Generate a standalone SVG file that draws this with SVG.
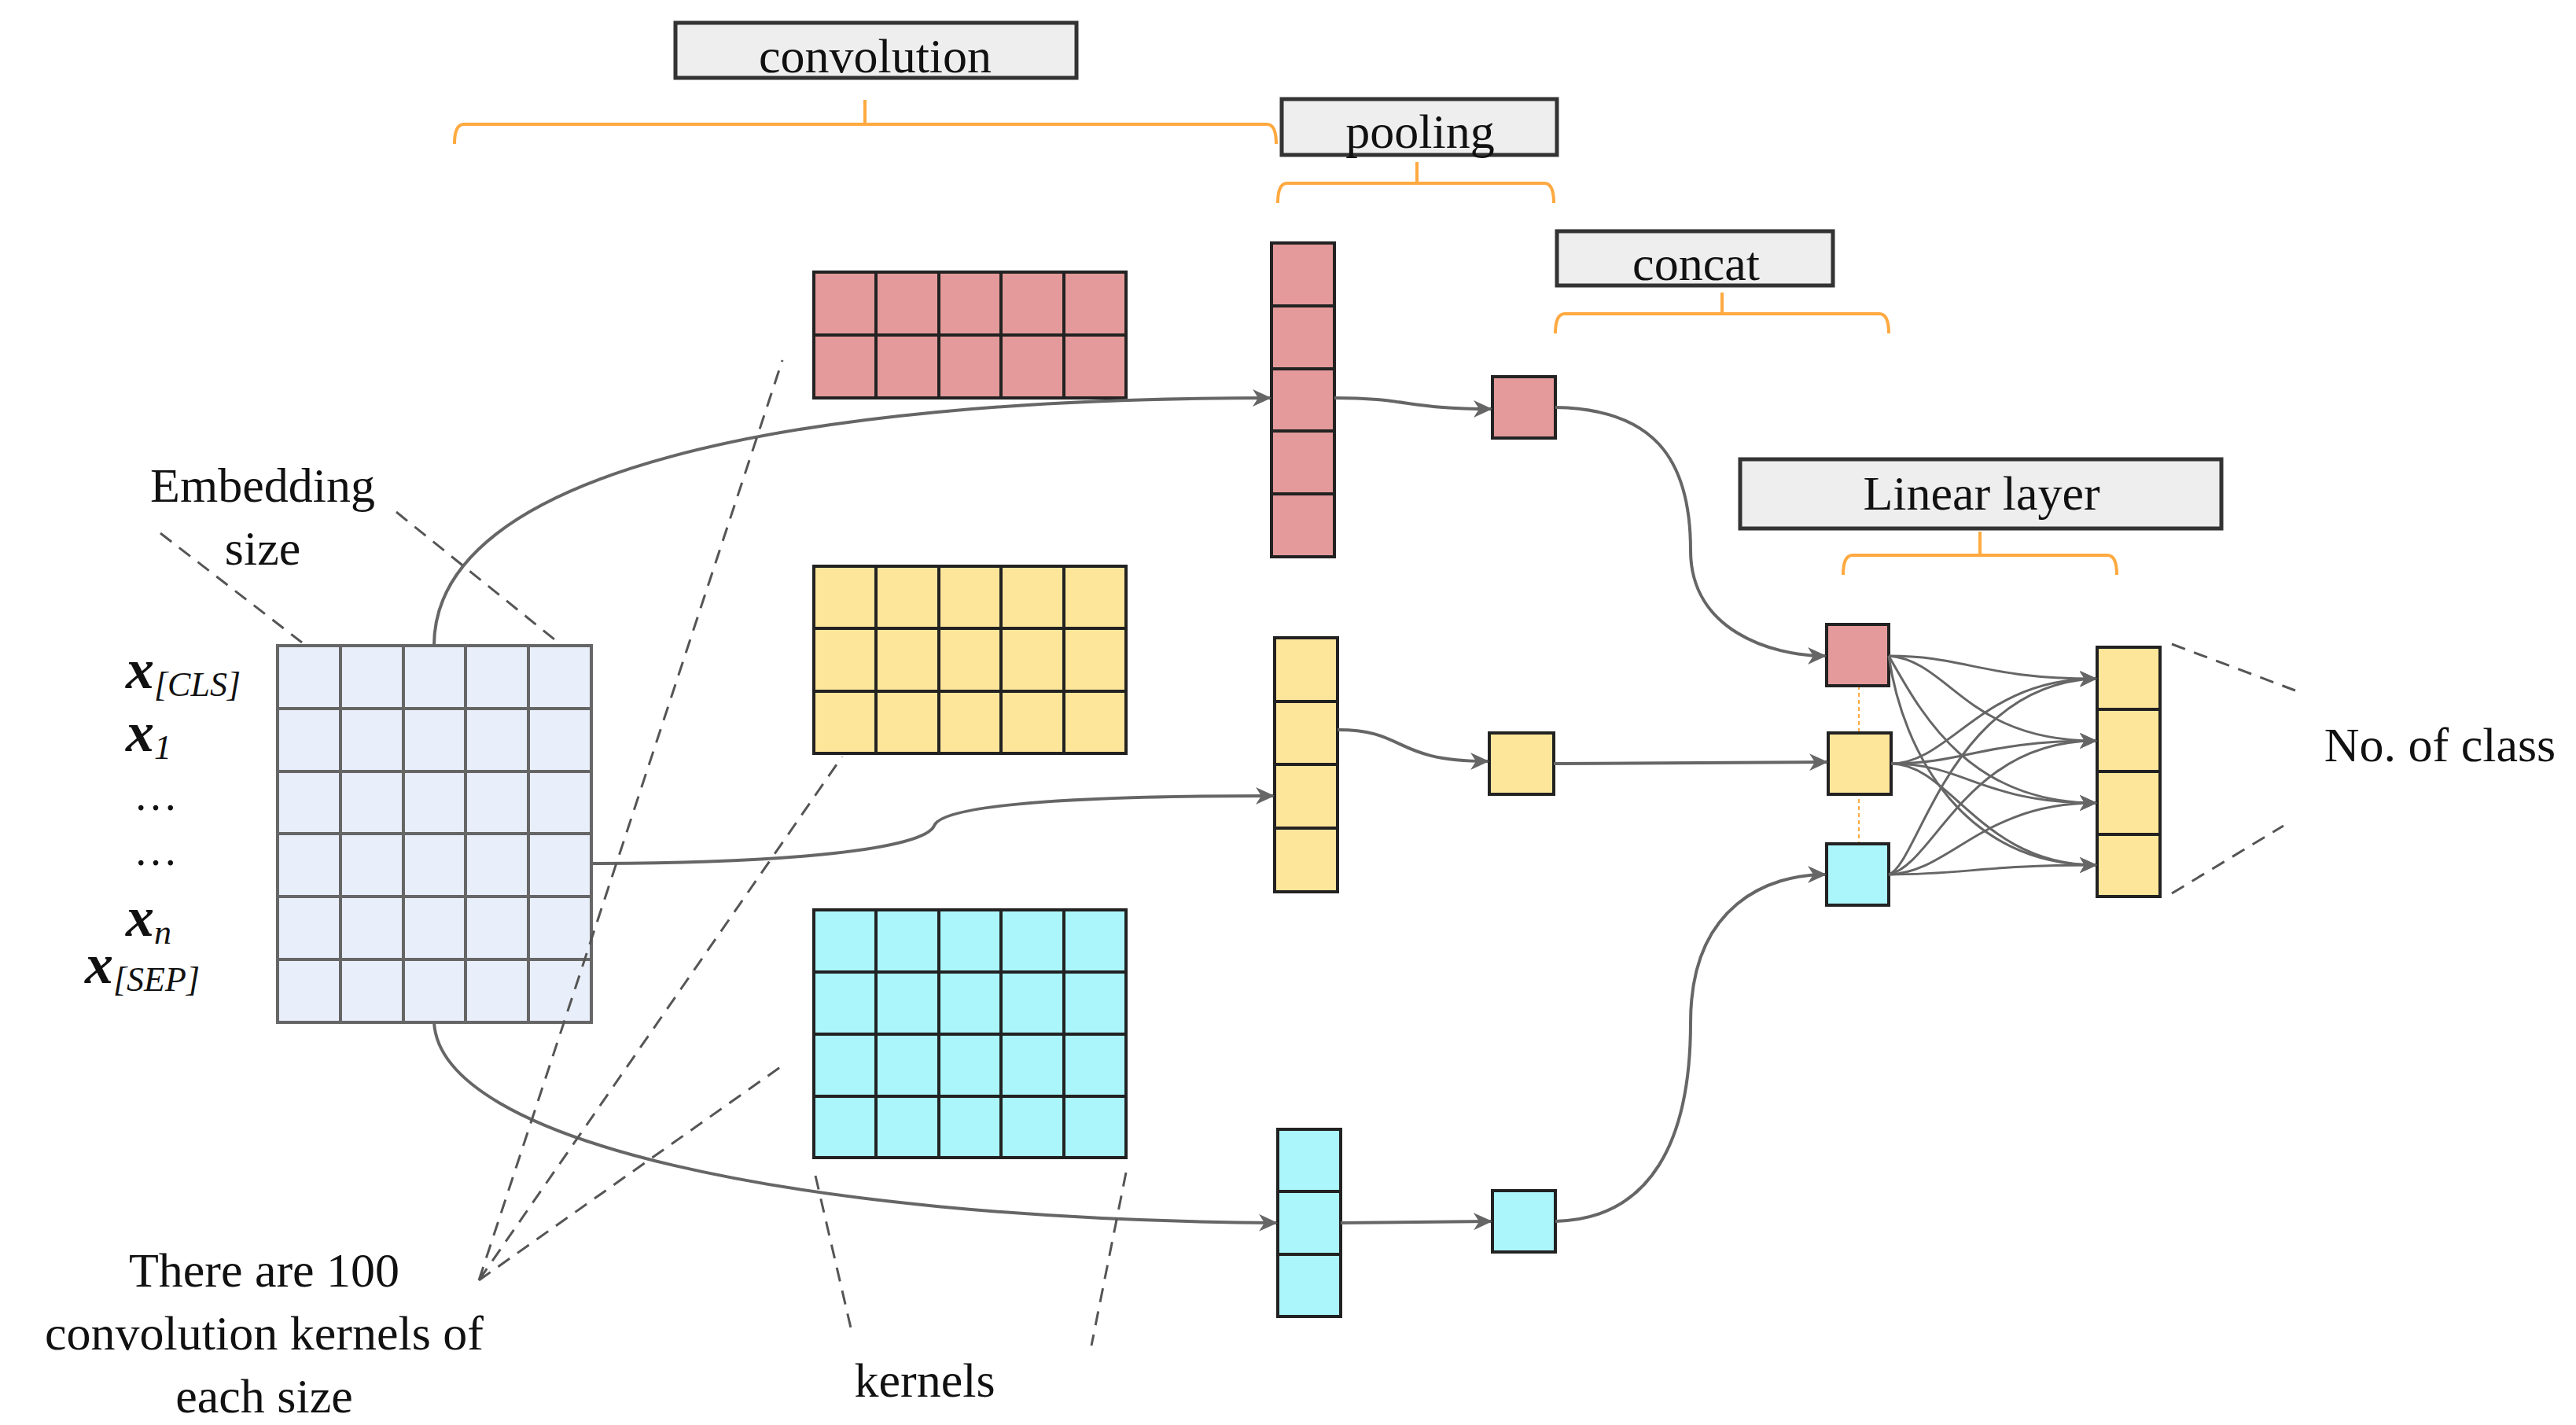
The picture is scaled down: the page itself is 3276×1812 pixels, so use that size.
<svg xmlns="http://www.w3.org/2000/svg" width="3276" height="1812" viewBox="0 0 3276 1812">
<style>
.lbl{fill:#eeeeee;stroke:#333;stroke-width:5}
.t{font-family:"Liberation Serif",serif;font-size:62px;fill:#111;text-anchor:middle}
.brace{fill:none;stroke:#ffa940;stroke-width:4}
.r{fill:#e49a9a;stroke:#222;stroke-width:4}
.y{fill:#fde59a;stroke:#222;stroke-width:4}
.c{fill:#aaf6fb;stroke:#222;stroke-width:4}
.e{fill:#e8eefa;stroke:#666;stroke-width:4}
.con{fill:none;stroke:#666;stroke-width:4;marker-end:url(#ah)}
.fc{fill:none;stroke:#666;stroke-width:3;marker-end:url(#ah2)}
.dash{fill:none;stroke:#555;stroke-width:3;stroke-dasharray:18 12}
.xv{font-family:"Liberation Serif",serif;font-weight:bold;font-style:italic;font-size:72px;fill:#111}
.sub{font-family:"Liberation Serif",serif;font-style:italic;font-weight:normal;font-size:44px}
.ell{font-family:"Liberation Serif",serif;font-size:56px;fill:#111;text-anchor:middle}
</style>
<defs>
<marker id="ah" markerWidth="24" markerHeight="22" refX="22" refY="11" orient="auto" markerUnits="userSpaceOnUse" viewBox="0 0 24 22">
<path d="M0,0 L24,11 L0,22 L7,11 Z" fill="#666"/>
</marker>
<marker id="ah2" markerWidth="22" markerHeight="20" refX="20" refY="10" orient="auto" markerUnits="userSpaceOnUse" viewBox="0 0 22 20">
<path d="M0,0 L22,10 L0,20 L6,10 Z" fill="#666"/>
</marker>
</defs>
<rect width="3276" height="1812" fill="#fff"/>

<g id="labels">
<g id="convolution"><rect class="lbl" x="859" y="29" width="510" height="70"/><text class="t" x="1113" y="92">convolution</text>
<path class="brace" d="M578,183 Q578,158 590,158 L1100,158 L1100,127 M1100,158 L1611,158 Q1623,158 1623,183"/></g>
<g id="pooling"><rect class="lbl" x="1630" y="126" width="350" height="71"/><text class="t" x="1806" y="188">pooling</text>
<path class="brace" d="M1625,258 Q1625,233 1637,233 L1802,233 L1802,206 M1802,233 L1964,233 Q1976,233 1976,258"/></g>
<g id="concat"><rect class="lbl" x="1980" y="294" width="351" height="69"/><text class="t" x="2157" y="356">concat</text>
<path class="brace" d="M1978,424 Q1978,399 1990,399 L2190,399 L2190,372 M2190,399 L2390,399 Q2402,399 2402,424"/></g>
<g id="linear"><rect class="lbl" x="2213" y="584" width="612" height="88"/><text class="t" x="2520" y="648">Linear layer</text>
<path class="brace" d="M2344,731 Q2344,706 2356,706 L2518,706 L2518,676 M2518,706 L2680,706 Q2692,706 2692,731"/></g>
</g>

<g id="embedding">
<rect class="e" x="353" y="821" width="399" height="479"/>
<path d="M433,821V1300M513,821V1300M592,821V1300M672,821V1300M353,901H752M353,981H752M353,1060H752M353,1140H752M353,1220H752" stroke="#666" stroke-width="4"/>
</g>
<g id="kernel-red">
<rect class="r" x="1035" y="346" width="397" height="160"/>
<path d="M1114,346V506M1194,346V506M1273,346V506M1353,346V506M1035,426H1432" stroke="#222" stroke-width="4"/>
</g>
<g id="kernel-yellow">
<rect class="y" x="1035" y="720" width="397" height="238"/>
<path d="M1114,720V958M1194,720V958M1273,720V958M1353,720V958M1035,799H1432M1035,879H1432" stroke="#222" stroke-width="4"/>
</g>
<g id="kernel-cyan">
<rect class="c" x="1035" y="1157" width="397" height="315"/>
<path d="M1114,1157V1472M1194,1157V1472M1273,1157V1472M1353,1157V1472M1035,1236H1432M1035,1315H1432M1035,1394H1432" stroke="#222" stroke-width="4"/>
</g>
<g id="conv-red"><rect class="r" x="1617" y="309" width="80" height="399"/><path d="M1617,389H1697M1617,469H1697M1617,548H1697M1617,628H1697" stroke="#222" stroke-width="4"/></g>
<g id="conv-yellow"><rect class="y" x="1621" y="811" width="80" height="323"/><path d="M1621,892H1701M1621,972H1701M1621,1053H1701" stroke="#222" stroke-width="4"/></g>
<g id="conv-cyan"><rect class="c" x="1625" y="1436" width="80" height="238"/><path d="M1625,1515H1705M1625,1595H1705" stroke="#222" stroke-width="4"/></g>
<g id="pool-red"><rect class="r" x="1898" y="479" width="80" height="78"/></g>
<g id="pool-yellow"><rect class="y" x="1894" y="932" width="82" height="78"/></g>
<g id="pool-cyan"><rect class="c" x="1898" y="1514" width="80" height="78"/></g>
<line x1="2364" y1="872" x2="2364" y2="1073" stroke="#ffa940" stroke-width="2" stroke-dasharray="5 4"/>
<g id="cat-red"><rect class="r" x="2323" y="794" width="79" height="78"/></g>
<g id="cat-yellow"><rect class="y" x="2325" y="932" width="80" height="78"/></g>
<g id="cat-cyan"><rect class="c" x="2323" y="1073" width="79" height="78"/></g>
<g id="output"><rect class="y" x="2667" y="823" width="80" height="317"/><path d="M2667,902H2747M2667,981H2747M2667,1061H2747" stroke="#222" stroke-width="4"/></g>

<g id="connectors">
<path class="con" d="M552,821 C552,600 1000,506 1615,506"/>
<path class="con" d="M752,1098 C1000,1098 1175,1080 1188,1050 C1200,1020 1400,1012 1619,1012"/>
<path class="con" d="M552,1300 C560,1450 1000,1550 1623,1555"/>
<path class="con" d="M1697,506 C1790,506 1790,520 1896,520"/>
<path class="con" d="M1701,928 C1790,928 1770,968 1892,968"/>
<path class="con" d="M1705,1555 L1896,1553"/>
<path class="con" d="M1978,518 C2100,520 2150,580 2150,700 C2150,800 2250,834 2321,834"/>
<path class="con" d="M1976,971 L2323,969"/>
<path class="con" d="M1978,1553 C2100,1550 2150,1450 2150,1300 C2150,1150 2250,1112 2321,1112"/>
<path class="fc" d="M2402,834 C2500,834 2520,863 2665,863"/>
<path class="fc" d="M2402,834 C2480,840 2500,942 2665,942"/>
<path class="fc" d="M2402,834 C2440,900 2500,1021 2665,1021"/>
<path class="fc" d="M2402,834 C2420,960 2500,1100 2665,1100"/>
<path class="fc" d="M2405,971 C2480,971 2520,863 2665,863"/>
<path class="fc" d="M2405,971 C2500,971 2520,942 2665,942"/>
<path class="fc" d="M2405,971 C2500,971 2520,1021 2665,1021"/>
<path class="fc" d="M2405,971 C2480,971 2520,1100 2665,1100"/>
<path class="fc" d="M2402,1112 C2440,1100 2480,870 2665,863"/>
<path class="fc" d="M2402,1112 C2460,1100 2500,942 2665,942"/>
<path class="fc" d="M2402,1112 C2480,1110 2520,1021 2665,1021"/>
<path class="fc" d="M2402,1112 C2500,1112 2520,1100 2665,1100"/>
</g>

<g id="dashed">
<path class="dash" d="M204,678 L384,817 M504,651 L710,817"/>
<path class="dash" d="M609,1628 L995,458 M609,1628 L1071,962 M609,1628 L995,1355"/>
<path class="dash" d="M1037,1495 L1084,1697 M1432,1491 L1388,1711"/>
<path class="dash" d="M2762,819 L2919,878 M2762,1136 L2904,1050"/>
</g>

<g id="texts">
<text class="t" x="334" y="638">Embedding</text>
<text class="t" x="334" y="718">size</text>
<text class="xv" x="160" y="875">x<tspan class="sub" dy="10">[CLS]</tspan></text>
<text class="xv" x="160" y="955">x<tspan class="sub" dy="10">1</tspan></text>
<text class="ell" x="198" y="1030">…</text>
<text class="ell" x="198" y="1100">…</text>
<text class="xv" x="160" y="1190">x<tspan class="sub" dy="10">n</tspan></text>
<text class="xv" x="108" y="1250">x<tspan class="sub" dy="10">[SEP]</tspan></text>
<text class="t" x="336" y="1636">There are 100</text>
<text class="t" x="336" y="1716">convolution kernels of</text>
<text class="t" x="336" y="1796">each size</text>
<text class="t" x="1176" y="1776">kernels</text>
<text class="t" x="3103" y="968">No. of class</text>
</g>
</svg>
